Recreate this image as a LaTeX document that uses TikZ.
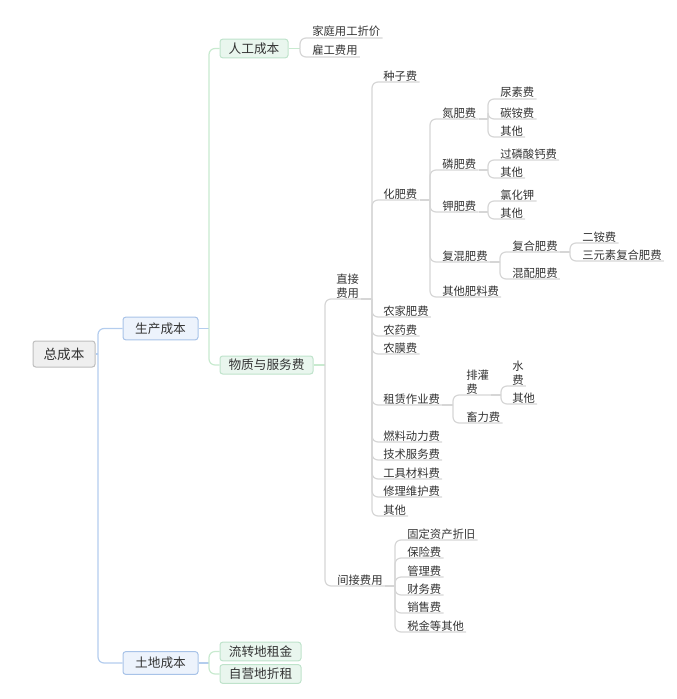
\documentclass[tikz,border=0pt]{standalone}
\usepackage{fontspec}
\setmainfont{Noto Sans CJK SC}
\usetikzlibrary{calc}
\definecolor{txt}{HTML}{333333}
\definecolor{rootfill}{HTML}{EFEFEF}
\definecolor{rootdraw}{HTML}{BDBDBD}
\definecolor{bfill}{HTML}{EDF3FC}
\definecolor{bdraw}{HTML}{A8C3E8}
\definecolor{gfill}{HTML}{E9F6EE}
\definecolor{gdraw}{HTML}{BFE3CB}
\definecolor{bline}{HTML}{B4CDEE}
\definecolor{gline}{HTML}{C8EACF}
\definecolor{lline}{HTML}{D6D6D6}
\tikzset{
  boxbase/.style={rounded corners=2pt, line width=0.75pt, text=txt, inner sep=0pt,
    font=\fontsize{9.5}{11}\selectfont},
  rootbox/.style={boxbase, fill=rootfill, draw=rootdraw, minimum width=46.5pt, minimum height=19.5pt,
    font=\fontsize{10.2}{12}\selectfont},
  bluebox/.style={boxbase, fill=bfill, draw=bdraw, minimum width=56.25pt, minimum height=17pt},
  greenbox/.style={boxbase, fill=gfill, draw=gdraw, minimum height=14pt},
  leaf/.style={anchor=south west, inner xsep=1.5pt, inner ysep=1.3pt, text depth=0pt, text=txt,
    font=\fontsize{8.5}{10.3}\selectfont},
  bconn/.style={draw=bline, line width=0.9pt, rounded corners=4.5pt},
  gconn/.style={draw=gline, line width=0.9pt, rounded corners=4.5pt},
  lconn/.style={draw=lline, line width=0.9pt, rounded corners=4.5pt},
}
\newcommand\mmbranch[3]{%
  \coordinate (#1-j) at (#1.south east -| #2,0);
  \draw[lconn] (#1.south east) -- (#1-j);
  \foreach \c in {#3} {\draw[lconn] (#1-j) |- (\c.south east);}
}
\newcommand\twoline[2]{\begin{tabular}[b]{@{}l@{}}#1\\#2\end{tabular}}
\begin{document}
\begin{tikzpicture}[x=0.75pt,y=-0.75pt]
\useasboundingbox (0,0) rectangle (676,699);
% boxes
\node[rootbox] (root) at (64,354) {总成本};
\node[bluebox] (sc) at (160.5,328.5) {生产成本};
\node[bluebox] (td) at (160.5,663) {土地成本};
\node[greenbox, minimum width=51pt] (rg) at (254,48.5) {人工成本};
\node[greenbox, minimum width=69.75pt, minimum height=13.5pt] (wz) at (266.5,365) {物质与服务费};
\node[greenbox, minimum width=60.75pt] (lz) at (260.5,651.5) {流转地租金};
\node[greenbox, minimum width=60.75pt] (zy) at (260.5,674) {自营地折租};
% leaves
\node[leaf] (l1) at (310,38) {家庭用工折价};
\node[leaf] (l2) at (310,57) {雇工费用};
\node[leaf] (zj) at (334,299) {\twoline{直接}{费用}};
\node[leaf] (jj) at (335,586) {间接费用};
\node[leaf] (d1) at (381,82) {种子费};
\node[leaf] (d2) at (381,200) {化肥费};
\node[leaf] (d3) at (381,317) {农家肥费};
\node[leaf] (d4) at (381,336) {农药费};
\node[leaf] (d5) at (381,354) {农膜费};
\node[leaf] (d6) at (381,405) {租赁作业费};
\node[leaf] (d7) at (381,442) {燃料动力费};
\node[leaf] (d8) at (381,460) {技术服务费};
\node[leaf] (d9) at (381,479) {工具材料费};
\node[leaf] (d10) at (381,497) {修理维护费};
\node[leaf] (d11) at (381,516) {其他};
\node[leaf] (h1) at (440,119) {氮肥费};
\node[leaf] (h2) at (440,170) {磷肥费};
\node[leaf] (h3) at (440,212) {钾肥费};
\node[leaf] (h4) at (440,262) {复混肥费};
\node[leaf] (h5) at (440,297) {其他肥料费};
\node[leaf] (n1) at (498,99) {尿素费};
\node[leaf] (n2) at (498,119) {碳铵费};
\node[leaf] (n3) at (498,137) {其他};
\node[leaf] (p1) at (498,160) {过磷酸钙费};
\node[leaf] (p2) at (498,178) {其他};
\node[leaf] (k1) at (498,201) {氯化钾};
\node[leaf] (k2) at (498,219) {其他};
\node[leaf] (f1) at (510,252) {复合肥费};
\node[leaf] (f2) at (510,279) {混配肥费};
\node[leaf] (g1) at (580,243) {二铵费};
\node[leaf] (g2) at (580,261) {三元素复合肥费};
\node[leaf] (r1) at (464,395) {\twoline{排灌}{费}};
\node[leaf] (r2) at (464,423) {畜力费};
\node[leaf] (s1) at (510,386) {\twoline{水}{费}};
\node[leaf] (s2) at (510,404) {其他};
\node[leaf] (i1) at (405,540) {固定资产折旧};
\node[leaf] (i2) at (405,558) {保险费};
\node[leaf] (i3) at (405,577) {管理费};
\node[leaf] (i4) at (405,595) {财务费};
\node[leaf] (i5) at (405,613) {销售费};
\node[leaf] (i6) at (405,632) {税金等其他};
% root connectors
\coordinate (rj) at (root.east -| 98,0);
\draw[bconn] (root.east) -- (rj);
\draw[bconn] (rj) |- (sc.west);
\draw[bconn] (rj) |- (td.west);
% 生产成本
\coordinate (scj) at (sc.east -| 209,0);
\draw[bconn] (sc.east) -- (scj);
\draw[gconn] (scj) |- (rg.west);
\draw[gconn] (scj) |- (wz.west);
% 土地成本
\coordinate (tdj) at (td.east -| 209,0);
\draw[bconn] (td.east) -- (tdj);
\draw[gconn] (tdj) |- (lz.west);
\draw[gconn] (tdj) |- (zy.west);
% 人工成本
\coordinate (rgj) at (rg.east -| 300,0);
\draw[gconn] (rg.east) -- (rgj);
\draw[lconn] (rgj) |- (l1.south east);
\draw[lconn] (rgj) |- (l2.south east);
% 物质与服务费
\coordinate (wzj) at (wz.east -| 325,0);
\draw[gconn] (wz.east) -- (wzj);
\draw[lconn] (wzj) |- (zj.south east);
\draw[lconn] (wzj) |- (jj.south east);
% deeper branches
\mmbranch{zj}{372}{d1,d2,d3,d4,d5,d6,d7,d8,d9,d10,d11}
\mmbranch{d2}{430}{h1,h2,h3,h4,h5}
\mmbranch{h1}{488}{n1,n2,n3}
\mmbranch{h2}{488}{p1,p2}
\mmbranch{h3}{488}{k1,k2}
\mmbranch{h4}{500}{f1,f2}
\mmbranch{f1}{570}{g1,g2}
\mmbranch{d6}{453}{r1,r2}
\mmbranch{r1}{501}{s1,s2}
\mmbranch{jj}{395}{i1,i2,i3,i4,i5,i6}
\end{tikzpicture}
\end{document}
